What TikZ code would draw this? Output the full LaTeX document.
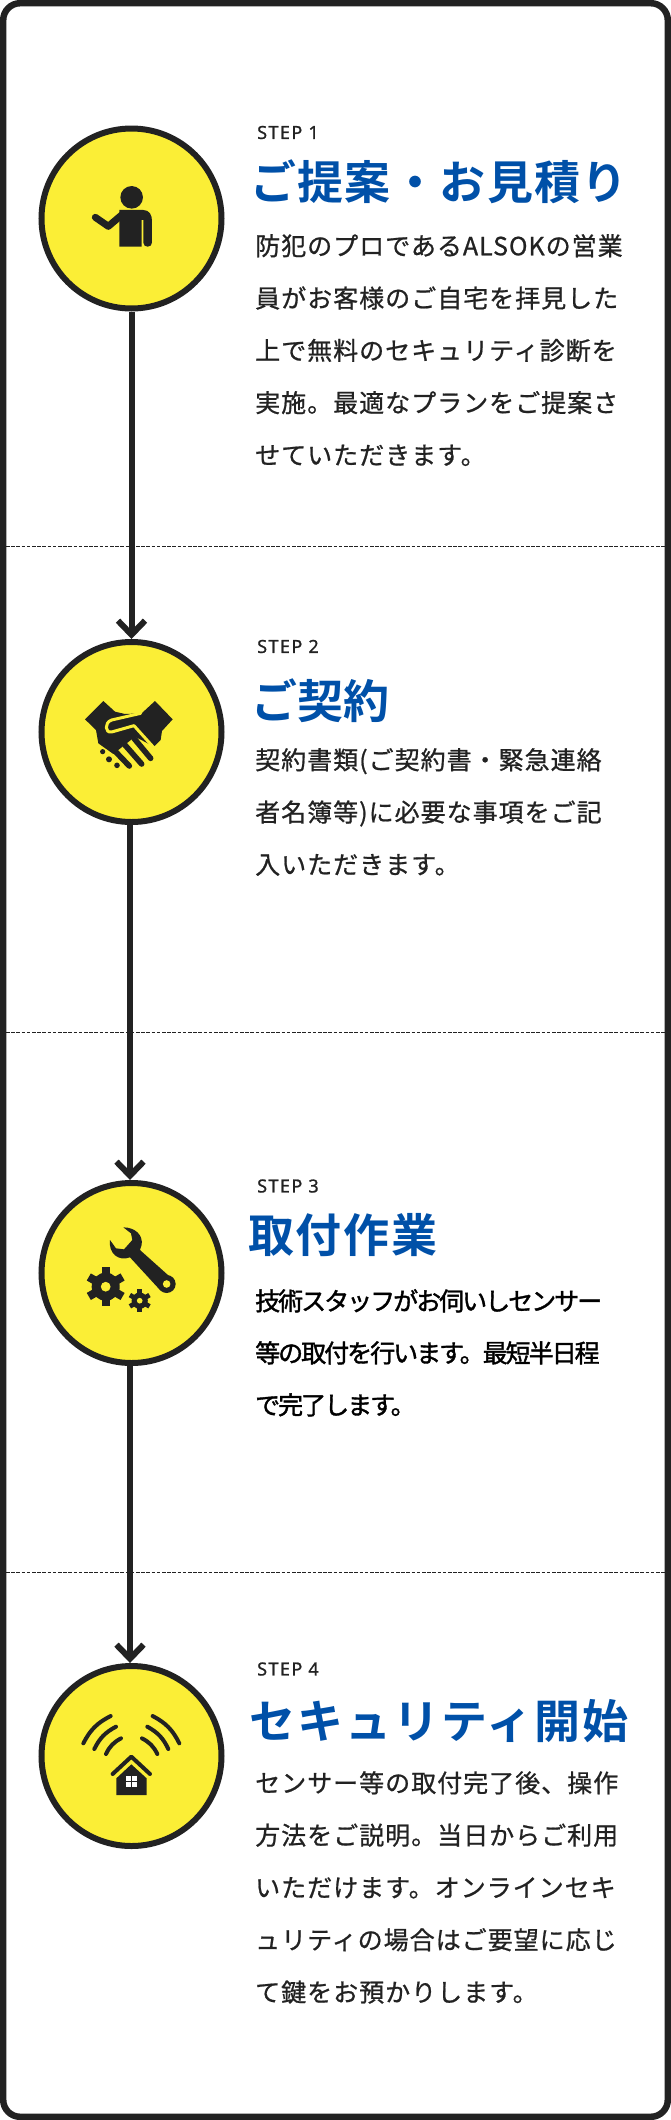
\documentclass[tikz,border=0pt]{standalone}
\usepackage{fontspec}
\usetikzlibrary{arrows.meta}

\newfontfamily\titlefont[BoldFont={Noto Sans CJK JP Bold}]{Noto Sans CJK JP}
\newfontfamily\bodyfont[LetterSpace=4,FakeBold=0.8]{Noto Sans CJK JP}
\newfontfamily\tightfont[LetterSpace=-8,FakeBold=1.5]{Noto Sans CJK JP}
\newfontfamily\labelfont[LetterSpace=8,FakeBold=1]{Noto Sans}

\definecolor{ink}{HTML}{222222}
\definecolor{signyellow}{HTML}{FBEE36}
\definecolor{titleblue}{HTML}{0050A8}

\tikzset{
    framebox/.style={draw=ink, line width=6.5pt, rounded corners=17pt},
    sepline/.style={draw=ink, line width=0.9pt, dash pattern=on 3.5pt off 1.7pt},
    stepcircle/.style={circle, draw=ink, fill=signyellow, line width=6pt, minimum size=180pt, inner sep=0pt},
    flowline/.style={draw=ink, line width=6pt, -{Straight Barb[length=14pt,width=27pt,line width=6pt]}},
    steplabel/.style={anchor=west, inner sep=0pt, text=ink, font=\labelfont\fontsize{18}{20}\selectfont},
    steptitle/.style={anchor=west, inner sep=0pt, text=titleblue, font=\titlefont\bfseries\fontsize{46}{50}\selectfont},
    stepbody/.style={anchor=north west, inner sep=0pt, align=left, text=ink, font=\bodyfont\fontsize{25}{52.3}\selectfont},
    iconline/.style={draw=ink, line width=4pt, line cap=round},
    iconcut/.style={draw=signyellow, line width=3pt, line cap=round, line join=round},
    iconzoom/.style={x=0.3333pt, y=-0.3333pt}
}

% rueda dentada
\newcommand{\gearmark}[3]{
    \fill[ink] (#1,#2) circle (#3*0.72);
    \foreach \a in {30,90,...,330}
        \draw[ink, line width=#3*0.42pt] (#1,#2) -- ++(\a:#3);
    \fill[signyellow] (#1,#2) circle (#3*0.25);
}

\begin{document}
\begin{tikzpicture}[x=1pt, y=-1pt]

    \useasboundingbox (0,0) rectangle (671,2120);

    % marco
    \draw[framebox] (3.2,3.2) rectangle (667.8,2116.8);

    % lineas punteadas
    \foreach \y in {546,1032,1572}
        \draw[sepline] (6,\y) -- (665,\y);

    % circulos
    \node[stepcircle] (step1) at (131.5,218.5) {};
    \node[stepcircle] (step2) at (131.5,732) {};
    \node[stepcircle] (step3) at (131.5,1273) {};
    \node[stepcircle] (step4) at (131.5,1756) {};

    % flechas
    \draw[flowline] (step1.south) -- (step2.north);
    \draw[flowline] ([xshift=-1.5pt]step2.south) -- ([xshift=-1.5pt]step3.north);
    \draw[flowline] ([xshift=-1.5pt]step3.south) -- ([xshift=-1.5pt]step4.north);

    % persona
    \begin{scope}[shift={(30,120)}, iconzoom]
        \fill[ink] (305,232) circle (11.3pt);
        \fill[ink] (268,380) -- (268,270) -- (340,270) .. controls (358,270) and (366,285) .. (366,302) -- (366,368) .. controls (366,384) and (340,384) .. (340,368) -- (340,300) -- (335,300) -- (335,380) -- cycle;
        \draw[ink, line width=7pt, line cap=round, line join=round] (196,292) -- (235,319) -- (275,285);
    \end{scope}

    % apreton de manos
    \begin{scope}[shift={(30,630)}, iconzoom]
        \fill[ink] (165,268) -- (220,213) -- (255,245) -- (285,252) -- (335,250) -- (375,213) -- (428,268) -- (396,303) -- (392,330) -- (372,350) -- (315,320) -- (250,372) -- (205,340) -- (198,300) -- cycle;
        \draw[ink, line width=5.6pt, line cap=round] (250,358) -- (298,408);
        \draw[ink, line width=5.6pt, line cap=round] (285,345) -- (335,402);
        \draw[ink, line width=5.6pt, line cap=round] (312,325) -- (362,385);
        \draw[iconcut] (376,358) -- (312,287) -- (245,306) .. controls (225,310) and (222,278) .. (245,270) -- (332,250);
        \fill[ink] (218,365) circle (2.6pt);
        \fill[ink] (237,388) circle (3pt);
        \fill[ink] (261,406) circle (2.8pt);
    \end{scope}

    % llave
    \begin{scope}[shift={(30,1170)}, iconzoom]
        \fill[ink] (280,172) .. controls (315,172) and (340,195) .. (335,225) -- (330,240) -- (425,325) -- (390,360) -- (300,262) .. controls (265,275) and (235,250) .. (240,210) -- (258,235) -- (282,238) -- (307,210) -- (303,190) -- cycle;
        \fill[ink] (410,342) circle (9pt);
        \fill[signyellow] (410,342) circle (3.8pt);
    \end{scope}
    \gearmark{105.7}{1286.7}{19.5}
    \gearmark{139.7}{1300.7}{11.3}

    % casa con ondas
    \begin{scope}[shift={(30,1655)}, iconzoom]
        \draw[iconline] (160,265) to[bend left=18] (242,183);
        \draw[iconline] (193,282) to[bend left=18] (258,215);
        \draw[iconline] (228,297) to[bend left=18] (273,250);
        \draw[iconline] (448,265) to[bend right=18] (368,183);
        \draw[iconline] (415,282) to[bend right=18] (352,215);
        \draw[iconline] (382,297) to[bend right=18] (336,250);
        \draw[iconline, line join=round] (248,357) -- (304,305) -- (360,357);
        \fill[ink] (259,420) -- (259,370) -- (304,328) -- (350,370) -- (350,420) -- cycle;
        \fill[white] (288,363) rectangle (302,378);
        \fill[white] (306,363) rectangle (322,378);
        \fill[white] (288,381) rectangle (302,396);
        \fill[white] (306,381) rectangle (322,396);
    \end{scope}

    % paso 1
    \node[steplabel] (label1) at (257,132.5) {STEP 1};
    \node[steptitle] (title1) at (250,182) {\addfontfeature{LetterSpace=3}ご提案・お見積り};
    \node[stepbody] (body1) at (255,234) {防犯のプロであるALSOKの営業\\員がお客様のご自宅を拝見した\\上で無料のセキュリティ診断を\\実施。最適なプランをご提案さ\\せていただきます。};

    % paso 2
    \node[steplabel] (label2) at (257,646.5) {STEP 2};
    \node[steptitle] (title2) at (251,701) {ご契約};
    \node[stepbody] (body2) at (255,748) {契約書類(ご契約書・緊急連絡\\者名簿等)に必要な事項をご記\\入いただきます。};

    % paso 3
    \node[steplabel] (label3) at (257,1186) {STEP 3};
    \node[steptitle] (title3) at (248,1235) {\addfontfeature{LetterSpace=4}取付作業};
    \node[stepbody, font=\tightfont\fontsize{25}{52}\selectfont, text=black] (body3) at (255,1289) {技術スタッフがお伺いしセンサー\\等の取付を行います。最短半日程\\で完了します。};

    % paso 4
    \node[steplabel] (label4) at (257,1669) {STEP 4};
    \node[steptitle] (title4) at (249,1721) {\addfontfeature{LetterSpace=4.5}セキュリティ開始};
    \node[stepbody] (body4) at (255,1771) {センサー等の取付完了後、操作\\方法をご説明。当日からご利用\\いただけます。オンラインセキ\\ュリティの場合はご要望に応じ\\て鍵をお預かりします。};

\end{tikzpicture}
\end{document}
